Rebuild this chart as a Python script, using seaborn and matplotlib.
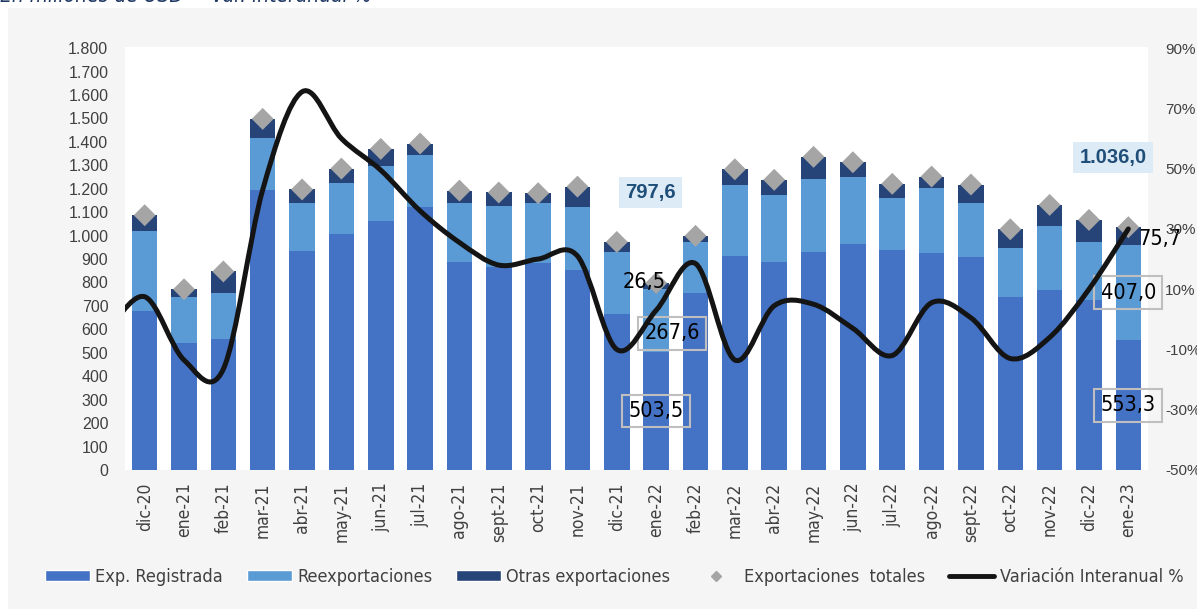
import numpy as np
import pandas as pd
import seaborn as sns
import matplotlib.pyplot as plt
from matplotlib.patches import Rectangle, Patch, PathPatch
from matplotlib.lines import Line2D
from matplotlib.path import Path
from matplotlib.ticker import FuncFormatter, MultipleLocator

sns.set_theme(style="white")
plt.rcParams['font.family'] = ['DejaVu Sans']
plt.rcParams['font.stretch'] = 'condensed'

# datos (millones de USD)
meses = ['dic-20', 'ene-21', 'feb-21', 'mar-21', 'abr-21', 'may-21', 'jun-21', 'jul-21',
         'ago-21', 'sept-21', 'oct-21', 'nov-21', 'dic-21', 'ene-22', 'feb-22', 'mar-22',
         'abr-22', 'may-22', 'jun-22', 'jul-22', 'ago-22', 'sept-22', 'oct-22', 'nov-22',
         'dic-22', 'ene-23']
exp_registrada = [679, 543, 559, 1195, 936, 1005, 1064, 1124, 886, 865, 885, 854, 666,
                  503.5, 754, 914, 889, 932, 966, 940, 926, 908, 740, 770, 726, 553.3]
reexportaciones = [341, 193, 195, 222, 205, 220, 235, 219, 252, 262, 256, 267, 266,
                   267.6, 219, 303, 285, 310, 283, 222, 278, 230, 208, 273, 247, 407.0]
otras_exportaciones = [67, 35, 93, 81, 56, 61, 71, 50, 54, 57, 40, 88, 41,
                       26.5, 26, 66, 64, 94, 64, 59, 48, 80, 79, 88, 94, 75.7]
# variacion interanual %; la curva empieza en nov-20 (fuera del area visible)
var_nov20 = -5.0
var_interanual = [7.5, -13.5, -16.5, 43, 75.5, 60, 49.5, 36, 25.5, 18, 20, 21, -10,
                  3, 18.5, -13.5, 4.5, 5, -3, -12, 5.5, 0.5, -13, -6, 10, 30]

MEDIO = '#4472C4'
CLARO = '#5B9BD5'
OSCURO = '#264478'
GRIS = '#A5A5A5'
TXT = '#404040'

df = pd.DataFrame({'mes': meses, 'reg': exp_registrada, 'reexp': reexportaciones,
                   'otras': otras_exportaciones})
df['reg_reexp'] = df['reg'] + df['reexp']
df['total'] = df['reg_reexp'] + df['otras']
df['pos'] = np.arange(len(df))


def curva_suave(xs, ys):
    # curva bezier tipo "linea suavizada" de Excel
    pts = np.column_stack([xs, ys]).astype(float)
    ext = np.vstack([pts[0], pts, pts[-1]])
    verts = [pts[0]]
    codes = [Path.MOVETO]
    for i in range(len(pts) - 1):
        p0, p1, p2, p3 = ext[i], ext[i + 1], ext[i + 2], ext[i + 3]
        verts += [p1 + (p2 - p0) / 6, p2 - (p3 - p1) / 6, p2]
        codes += [Path.CURVE4] * 3
    return Path(verts, codes)


fig = plt.figure(figsize=(11.97, 6.09), dpi=100, facecolor='white')
fig.patches.append(Rectangle((8 / 1197, 0), 1, 1 - 8 / 609, transform=fig.transFigure,
                             facecolor='#F5F5F5', edgecolor='none', zorder=-10))
fig.text(0.0, 1 - 2.5 / 609, 'En millones de USD  – Var. interanual %', color='#1F3864',
         fontsize=15, style='italic', va='baseline', ha='left')

ax = fig.add_axes([125 / 1197, 1 - 470 / 609, 1023 / 1197, (470 - 46.7) / 609])
ax.set_facecolor('white')

for col, color in [('total', OSCURO), ('reg_reexp', CLARO), ('reg', MEDIO)]:
    sns.barplot(data=df, x='mes', y=col, color=color, saturation=1, width=0.65,
                errorbar=None, ax=ax, zorder=2, edgecolor='none')

sns.scatterplot(data=df, x='pos', y='total', marker='D', s=125, color=GRIS,
                edgecolor='none', ax=ax, zorder=3, legend=False)

ax.set_xlim(-0.5, len(meses) - 0.5)
ax.set_ylim(0, 1806)
ax.yaxis.set_major_locator(MultipleLocator(100))
ax.yaxis.set_major_formatter(FuncFormatter(lambda v, p: f'{int(v):,}'.replace(',', '.')))
ax.set_xticks(range(len(meses)))
ax.set_xticklabels(meses, rotation=90, va='top', ha='center')
ax.set_xlabel('')
ax.set_ylabel('')
ax.tick_params(axis='x', length=0, pad=9, labelsize=12.5, labelcolor=TXT)
ax.tick_params(axis='y', length=0, pad=12, labelcolor=TXT)
for lab in ax.get_yticklabels():
    lab.set_fontfamily(['Liberation Sans', 'DejaVu Sans'])
    lab.set_fontstretch('normal')
    lab.set_fontsize(11.5)
sns.despine(ax=ax, left=True, bottom=True)

ax2 = ax.twinx()
ax2.patch.set_visible(False)
ax2.set_ylim(-50, -50 + 1806 / 1800 * 140)
ax2.set_yticks(np.arange(-50, 91, 20))
ax2.yaxis.set_major_formatter(FuncFormatter(lambda v, p: f'{int(v)}%'))
ax2.tick_params(axis='y', length=0, pad=12.5, labelcolor=TXT)
for lab in ax2.get_yticklabels():
    lab.set_fontfamily(['Liberation Sans', 'DejaVu Sans'])
    lab.set_fontstretch('normal')
    lab.set_fontsize(11)
for s in ax2.spines.values():
    s.set_visible(False)

xs_linea = np.concatenate([[-1], df['pos'].to_numpy()])
ys_linea = np.concatenate([[var_nov20], var_interanual])
ax2.add_patch(PathPatch(curva_suave(xs_linea, ys_linea), facecolor='none',
                        edgecolor='#141414', lw=3.6, capstyle='round', zorder=4))

# etiquetas de ene-22 y ene-23
caja_gris = dict(boxstyle='square,pad=0.3', fc='none', ec='#BFBFBF', lw=1.5)
caja_azul = dict(boxstyle='square,pad=0.3', fc='#DDEBF7', ec='none')
fmt = lambda v: f'{v:,.1f}'.replace(',', 'X').replace('.', ',').replace('X', '.')
for i, dotr, dre, azul_dx, azul_dy in [(13, (-9, 3), (11.5, -9), -4, 65),
                                       (25, (23, -2), (0, 0), -11, 50)]:
    r = df.loc[i]
    ax.annotate(fmt(r['reg']), xy=(i, r['reg'] / 2), ha='center', va='center',
                fontsize=15.5, color='black', bbox=caja_gris, zorder=6)
    ax.annotate(fmt(r['reexp']), xy=(i, r['reg'] + r['reexp'] / 2), xytext=dre,
                textcoords='offset points', ha='center', va='center',
                fontsize=15.5, color='black', bbox=caja_gris, zorder=6)
    ax.annotate(fmt(r['otras']), xy=(i, r['reg_reexp'] + r['otras'] / 2), xytext=dotr,
                textcoords='offset points', ha='center', va='center',
                fontsize=15.5, color='black', zorder=6)
    ax.annotate(fmt(r['total']), xy=(i, r['total']), xytext=(azul_dx, azul_dy),
                textcoords='offset points', ha='center', va='center', fontsize=14.5,
                fontweight='bold', color='#1F4E79', bbox=caja_azul, zorder=6,
                fontfamily=['Liberation Sans', 'DejaVu Sans'], fontstretch='normal')

handles = [Patch(facecolor=MEDIO, label='Exp. Registrada'),
           Patch(facecolor=CLARO, label='Reexportaciones'),
           Patch(facecolor=OSCURO, label='Otras exportaciones'),
           Line2D([], [], marker='D', color=GRIS, linestyle='none', markersize=5,
                  label='Exportaciones  totales'),
           Line2D([], [], color='#141414', lw=3.5, label='Variación Interanual %')]
fig.legend(handles=handles, loc='center', bbox_to_anchor=(0.513, 0.0525), ncol=5,
           frameon=False, fontsize=13, handlelength=2.5, handleheight=0.6,
           handletextpad=0.3, columnspacing=1.3, labelcolor=TXT)

fig.savefig('out.png', dpi=100, facecolor=fig.get_facecolor())
